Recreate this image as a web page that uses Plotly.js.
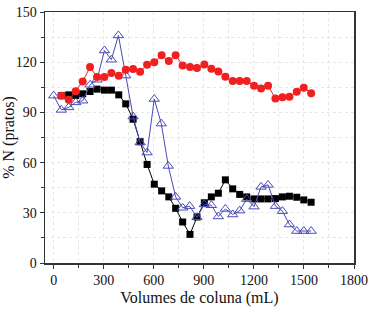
<!DOCTYPE html>
<html>
<head>
<meta charset="utf-8">
<script src="https://cdn.plot.ly/plotly-3.0.1.min.js"></script>
<style>html,body{margin:0;padding:0;background:#fff;}#chart{width:372px;height:312px;}</style>
</head>
<body>
<div id="chart"></div>
<script>
const volumes = [46,90,132,174,218,260,304,346,390,432,476,518,560,603,647,690,731,773,817,859,903,945,987,1029,1073,1115,1157,1201,1243,1285,1329,1371,1413,1457,1499,1543];
const blueVolumes = [0,46,90,132,174,218,260,304,346,388,432,476,518,560,603,645,687,731,773,815,859,903,945,987,1029,1073,1115,1157,1201,1243,1285,1329,1371,1413,1457,1499,1543];
const seriesBlack = [100,100.5,100.1,101.1,102.5,103.9,103.3,103.3,100.5,95.1,85.9,72.5,58.9,47.1,43.1,39.5,32.7,24.5,17.1,27.5,36,39.5,41.7,49.7,44.3,41,39.5,38.3,38.3,38.3,38.5,39.5,39.9,39.3,37.7,36.3];
const seriesBlue = [100,91.5,93,96,97,106.5,109.5,127,121.5,136,112,87.5,72,66,98,83.3,58,39.5,33,34,27.3,35,34.5,27.8,32.3,29,31.3,38.2,33.7,45.5,46.7,34,31,23,19.1,19.1,19.1];
const seriesRed = [100,97.5,102.7,108.5,117.1,111.1,111.1,113.5,111.9,115.5,115.9,114.3,118.5,119.9,124.1,120.7,124.1,118.1,117.1,116.5,118.7,116.1,114.5,111.3,108.7,108.7,108.7,105.9,104.3,105.9,98.3,99.1,99.3,102.3,104.7,101.5];
const xTicks = [0,300,600,900,1200,1500,1800];
const yTicks = [0,30,60,90,120,150];

const traces = [
  {x: volumes, y: seriesBlack, type:'scatter', mode:'lines+markers',
   line:{color:'#000', width:1}, marker:{symbol:'square', size:7, color:'#000'}},
  {x: blueVolumes, y: seriesBlue, type:'scatter', mode:'lines+markers',
   line:{color:'#4a4ab8', width:1}, marker:{symbol:'triangle-up-open', size:9, color:'#4a4ab8', line:{width:1}}},
  {x: volumes, y: seriesRed, type:'scatter', mode:'lines+markers',
   line:{color:'#f02020', width:1}, marker:{symbol:'circle', size:8, color:'#f02020'}}
];

const gridC = '#e6e6e6';
const layout = {
  width:372, height:312,
  margin:{l:45, r:18, t:12, b:49},
  showlegend:false,
  paper_bgcolor:'#fff', plot_bgcolor:'#fff',
  font:{family:'"Liberation Serif", serif', color:'#111', size:14},
  xaxis:{range:[-52,1800], tickvals:xTicks, ticktext:xTicks.map(String),
    showline:true, mirror:true, linecolor:'#333', linewidth:1.5,
    ticks:'outside', ticklen:4, tickcolor:'#333', tickwidth:1,
    showgrid:true, gridcolor:gridC, griddash:'dot', gridwidth:1, zeroline:false,
    minor:{dtick:150, tick0:0, ticks:'outside', ticklen:3, tickcolor:'#333', showgrid:true, gridcolor:gridC, griddash:'dot'},
    tickfont:{size:14}, title:{text:'Volumes de coluna (mL)', font:{size:16}, standoff:4}},
  yaxis:{range:[0,150], tickvals:yTicks, ticktext:yTicks.map(String),
    showline:true, mirror:true, linecolor:'#333', linewidth:1.5,
    ticks:'outside', ticklen:4, tickcolor:'#333', tickwidth:1,
    showgrid:true, gridcolor:gridC, griddash:'dot', gridwidth:1, zeroline:false,
    minor:{dtick:15, tick0:0, ticks:'outside', ticklen:3, tickcolor:'#333', showgrid:true, gridcolor:gridC, griddash:'dot'},
    tickfont:{size:14}, title:{text:'% N (pratos)', font:{size:16}, standoff:0}}
};
Plotly.newPlot('chart', traces, layout, {staticPlot:true, displayModeBar:false});
</script>
</body>
</html>
